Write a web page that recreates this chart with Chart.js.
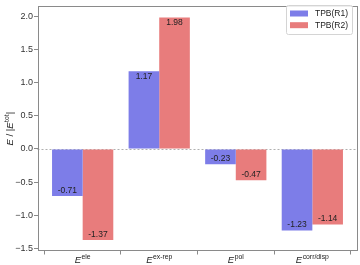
<!DOCTYPE html>
<html>
<head>
<meta charset="utf-8">
<script src="https://cdn.jsdelivr.net/npm/chart.js@4.4.0/dist/chart.umd.min.js"></script>
<style>
html,body{margin:0;padding:0;background:#fff;}
canvas{display:block;}
</style>
</head>
<body>
<canvas id="c" width="360" height="265"></canvas>
<script>
const categories = ['ele', 'ex-rep', 'pol', 'corr/disp'];
const seriesNames = ['TPB(R1)', 'TPB(R2)'];
const r1Values = [-0.71, 1.17, -0.23, -1.23];
const r2Values = [-1.37, 1.98, -0.47, -1.14];
const yTickValues = [-1.5, -1.0, -0.5, 0.0, 0.5, 1.0, 1.5, 2.0];

const BLUE = 'rgb(125,125,232)';
const RED = 'rgb(232,124,124)';
const FONT = '"Liberation Sans", Arial, sans-serif';
const AXIS = '#8a8a8a';

function fmtTick(v){ return (v < 0 ? '\u2212' : '') + Math.abs(v).toFixed(1); }

function drawE(ctx, x, y, base, sup, size, pre, post) {
  // draws [pre]E^sup[post] centered at x, baseline y
  const fN = size + 'px ' + FONT;
  const fI = 'italic ' + size + 'px ' + FONT;
  const fS = (size * 0.72) + 'px ' + FONT;
  ctx.font = fN; const wPre = pre ? ctx.measureText(pre).width : 0;
  const wPost = post ? ctx.measureText(post).width : 0;
  ctx.font = fI; const wE = ctx.measureText(base).width;
  ctx.font = fS; const wS = ctx.measureText(sup).width;
  const total = wPre + wE + 0.5 + wS + wPost;
  let cx = x - total / 2;
  ctx.textAlign = 'left'; ctx.textBaseline = 'alphabetic';
  if (pre) { ctx.font = fN; ctx.fillText(pre, cx, y); cx += wPre; }
  ctx.font = fI; ctx.fillText(base, cx, y); cx += wE + 0.5;
  ctx.font = fS; ctx.fillText(sup, cx, y - size * 0.42); cx += wS;
  if (post) { ctx.font = fN; ctx.fillText(post, cx, y); }
}

const decor = {
  id: 'decor',
  beforeDatasetsDraw(chart) {
    const ctx = chart.ctx, a = chart.chartArea, y0 = chart.scales.y.getPixelForValue(0);
    ctx.save();
    ctx.strokeStyle = '#b0b0b0'; ctx.lineWidth = 1; ctx.setLineDash([2, 2]);
    ctx.beginPath(); ctx.moveTo(a.left, Math.round(y0) + 0.5); ctx.lineTo(a.right, Math.round(y0) + 0.5); ctx.stroke();
    ctx.restore();
  },
  afterDatasetsDraw(chart) {
    const ctx = chart.ctx, a = chart.chartArea;
    ctx.save();
    // value labels
    ctx.font = '8.5px ' + FONT; ctx.fillStyle = '#222'; ctx.textAlign = 'center'; ctx.textBaseline = 'middle';
    chart.data.datasets.forEach((ds, di) => {
      chart.getDatasetMeta(di).data.forEach((bar, i) => {
        const v = ds.data[i].y;
        const yy = v >= 0 ? bar.y + 5.5 : bar.y - 5.5;
        ctx.fillText(v.toFixed(2), bar.x, yy);
      });
    });
    // frame
    ctx.strokeStyle = AXIS; ctx.lineWidth = 1;
    ctx.strokeRect(Math.round(a.left) + 0.5, Math.round(a.top) + 0.5, Math.round(a.right - a.left) - 1, Math.round(a.bottom - a.top) - 1);
    // x category labels
    ctx.fillStyle = '#222';
    const xs = chart.scales.x;
    categories.forEach((c, i) => {
      drawE(ctx, xs.getPixelForValue(i), 263, 'E', c, 9.5, '', '');
    });
    // y title
    ctx.save();
    ctx.translate(10, (a.top + a.bottom) / 2);
    ctx.rotate(-Math.PI / 2);
    // "E / |E^tot|"
    const size = 9.5;
    const fN = size + 'px ' + FONT, fI = 'italic ' + size + 'px ' + FONT, fS = (size * 0.72) + 'px ' + FONT;
    ctx.font = fI; const wE = ctx.measureText('E').width;
    ctx.font = fN; const wMid = ctx.measureText(' / |').width, wBar = ctx.measureText('|').width;
    ctx.font = fS; const wS = ctx.measureText('tot').width;
    const tot = wE + wMid + wE + 0.5 + wS + wBar;
    let cx = -tot / 2; const by = 3;
    ctx.textAlign = 'left'; ctx.textBaseline = 'alphabetic';
    ctx.font = fI; ctx.fillText('E', cx, by); cx += wE;
    ctx.font = fN; ctx.fillText(' / |', cx, by); cx += wMid;
    ctx.font = fI; ctx.fillText('E', cx, by); cx += wE + 0.5;
    ctx.font = fS; ctx.fillText('tot', cx, by - size * 0.42); cx += wS;
    ctx.font = fN; ctx.fillText('|', cx, by);
    ctx.restore();
    // legend
    const lx = 286.5, ly = 5.5, lw = 66, lh = 29;
    ctx.fillStyle = 'rgba(255,255,255,0.85)'; ctx.strokeStyle = '#d4d4d4';
    ctx.beginPath();
    if (ctx.roundRect) ctx.roundRect(lx, ly, lw, lh, 2); else ctx.rect(lx, ly, lw, lh);
    ctx.fill(); ctx.stroke();
    const cols = [BLUE, RED];
    seriesNames.forEach((n, i) => {
      const ry = 13.5 + i * 11.7;
      ctx.fillStyle = cols[i]; ctx.fillRect(290, ry - 3, 18, 6);
      ctx.fillStyle = '#222'; ctx.font = '8.5px ' + FONT; ctx.textAlign = 'left'; ctx.textBaseline = 'middle';
      ctx.fillText(n, 315, ry);
    });
    ctx.restore();
  }
};

new Chart(document.getElementById('c'), {
  type: 'bar',
  data: {
    datasets: [
      { label: seriesNames[0], data: r1Values.map((v, i) => ({ x: i, y: v })), backgroundColor: BLUE, borderWidth: 0 },
      { label: seriesNames[1], data: r2Values.map((v, i) => ({ x: i, y: v })), backgroundColor: RED, borderWidth: 0 }
    ]
  },
  options: {
    responsive: false,
    animation: false,
    devicePixelRatio: 1,
    layout: { padding: { top: 2, right: 2.5, left: 0, bottom: 0 } },
    plugins: { legend: { display: false }, tooltip: { enabled: false } },
    datasets: { bar: { barPercentage: 1.0, categoryPercentage: 0.8 } },
    scales: {
      x: {
        type: 'linear', min: -0.59, max: 3.59, offset: false,
        afterBuildTicks: s => { s.ticks = categories.map((c, i) => ({ value: i })); },
        afterFit: s => { s.height = 14; },
        grid: { drawOnChartArea: false, drawTicks: true, tickLength: 3.5, color: AXIS },
        border: { display: false },
        ticks: { display: false, autoSkip: false }
      },
      y: {
        min: -1.5375, max: 2.1475,
        afterBuildTicks: s => { s.ticks = yTickValues.map(v => ({ value: v })); },
        afterFit: s => { s.width = 37.5; },
        grid: { drawOnChartArea: false, drawTicks: true, tickLength: 3.5, color: AXIS },
        border: { display: false },
        ticks: { autoSkip: false, padding: 1, color: '#333', font: { family: FONT, size: 9 }, callback: v => fmtTick(v) }
      }
    }
  },
  plugins: [decor]
});
</script>
</body>
</html>
